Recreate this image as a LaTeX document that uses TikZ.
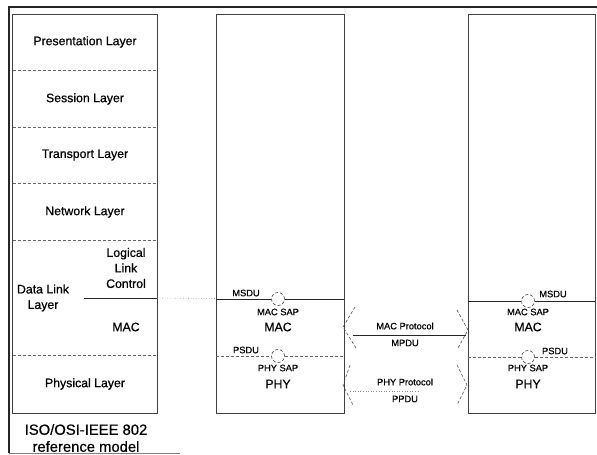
\documentclass[tikz,border=0pt]{standalone}
\usepackage{fontspec}
\setmainfont{Liberation Sans}[FakeBold=0.6]
\begin{document}
\begin{tikzpicture}[x=1pt,y=-1pt,
  frame/.style={line width=1.3pt, black!85},
  boxline/.style={line width=0.7pt, black!75},
  sepline/.style={line width=0.6pt, black!60, densely dashed},
  solidsep/.style={line width=0.9pt, black!85},
  dotline/.style={line width=0.6pt, black!45, dotted},
  lbl/.style={font=\fontsize{12.3}{15.5}\selectfont, align=center, inner sep=0pt},
  small/.style={font=\fontsize{9.3}{11}\selectfont, inner sep=0pt},
  big/.style={font=\fontsize{14.8}{17}\selectfont, align=center, inner sep=0pt},
  bracketline/.style={line width=0.6pt, black!70, dash pattern=on 3pt off 2pt},
  sapcircle/.style={line width=0.6pt, black!75, dash pattern=on 3pt off 2pt}
]
\useasboundingbox (0,0) rectangle (597,455);

% outer frame
\coordinate (fTR) at (597,7);
\coordinate (fTL) at (9,7);
\coordinate (fBL) at (9,453);
\coordinate (fBR) at (180,453);
\draw[frame] (fTR) -- (fTL) -- (fBL);
\draw[line width=0.8pt, black!50] (fBL) -- (fBR);

% left reference stack
\coordinate (L1) at (12.5,14);
\coordinate (L2) at (157,413);
\draw[boxline] (L1) rectangle (L2);
\foreach \yy/\nm in {70/a,127/b,183/c,240/d,355/e}{
  \coordinate (sl\nm) at (12.5,\yy);
  \coordinate (sr\nm) at (157,\yy);
  \draw[sepline] (sl\nm) -- (sr\nm);
}
\coordinate (llcL) at (84,298);
\coordinate (llcR) at (157,298);
\coordinate (midL) at (216,298.5);
\draw[solidsep] (llcL) -- (llcR);
\draw[dotline] (llcR) -- (midL);

\node[lbl] (pres) at (85,42) {Presentation Layer};
\node[lbl] (sess) at (85,99) {Session Layer};
\node[lbl] (trans) at (85,155) {Transport Layer};
\node[lbl] (net) at (85,212) {Network Layer};
\node[lbl] (llc) at (126,268) {Logical\\Link\\Control};
\node[lbl] (dll) at (43,298) {Data Link\\Layer};
\node[lbl] (macL) at (126,327) {MAC};
\node[lbl] (phys) at (85,384) {Physical Layer};
\node[big] (iso) at (86,438) {ISO/OSI-IEEE 802\\reference model};

% middle station
\coordinate (M1) at (216,14);
\coordinate (M2) at (344,413);
\draw[boxline] (M1) rectangle (M2);
\node[draw, circle, sapcircle, minimum size=13pt, inner sep=0pt] (msapA) at (278,299) {};
\node[draw, circle, sapcircle, minimum size=13pt, inner sep=0pt] (psapA) at (278,356) {};
\coordinate (mA1) at (216,299);
\coordinate (mA2) at (344,299);
\coordinate (pA1) at (216,356);
\coordinate (pA2) at (344,356);
\draw[solidsep] (mA1) -- (msapA.west);
\draw[solidsep] (msapA.east) -- (mA2);
\draw[sepline] (pA1) -- (psapA.west);
\draw[sepline] (psapA.east) -- (pA2);
\node[small] (msduA) at (246,293) {MSDU};
\node[small] (macsapA) at (278,312) {MAC SAP};
\node[lbl] (macA) at (278,327) {MAC};
\node[small] (psduA) at (246,350) {PSDU};
\node[small] (physapA) at (278,368) {PHY SAP};
\node[lbl] (phyA) at (278,384) {PHY};

% right station
\coordinate (R1) at (468,14);
\coordinate (R2) at (595,413);
\draw[boxline] (R1) rectangle (R2);
\node[draw, circle, sapcircle, minimum size=13pt, inner sep=0pt] (msapB) at (528,301) {};
\node[draw, circle, sapcircle, minimum size=13pt, inner sep=0pt] (psapB) at (528,357) {};
\coordinate (mB1) at (468,301);
\coordinate (mB2) at (595,301);
\coordinate (pB1) at (468,357);
\coordinate (pB2) at (595,357);
\draw[solidsep] (mB1) -- (msapB.west);
\draw[solidsep] (msapB.east) -- (mB2);
\draw[sepline] (pB1) -- (psapB.west);
\draw[sepline] (psapB.east) -- (pB2);
\node[small] (msduB) at (553,294) {MSDU};
\node[small] (macsapB) at (528,312) {MAC SAP};
\node[lbl] (macB) at (528,327) {MAC};
\node[small] (psduB) at (555,351) {PSDU};
\node[small] (physapB) at (528,368) {PHY SAP};
\node[lbl] (phyB) at (528,384) {PHY};

% MAC protocol
\coordinate (macLapex) at (343,327);
\coordinate (macLup) at (355,307);
\coordinate (macLdn) at (356,348);
\coordinate (macRapex) at (468,330);
\coordinate (macRup) at (457,310);
\coordinate (macRdn) at (458,348);
\draw[bracketline] (macLup) -- (macLapex) -- (macLdn);
\draw[bracketline] (macRup) -- (macRapex) -- (macRdn);
\coordinate (macLine1) at (353,335);
\coordinate (macLine2) at (466,335);
\draw[solidsep] (macLine1) -- (macLine2);
\node[small] (macproto) at (405,326) {MAC Protocol};
\node[small] (mpdu) at (405,343) {MPDU};

% PHY protocol
\coordinate (phyLapex) at (343,385);
\coordinate (phyLup) at (350,365);
\coordinate (phyLdn) at (353,405);
\coordinate (phyRapex) at (467,385);
\coordinate (phyRup) at (457,365);
\coordinate (phyRdn) at (457,405);
\draw[bracketline] (phyLup) -- (phyLapex) -- (phyLdn);
\draw[bracketline] (phyRup) -- (phyRapex) -- (phyRdn);
\coordinate (phyLine1) at (350,391);
\coordinate (phyLine2) at (420,391);
\draw[dotline] (phyLine1) -- (phyLine2);
\node[small] (phyproto) at (405,382) {PHY Protocol};
\node[small] (ppdu) at (405,399) {PPDU};
\end{tikzpicture}
\end{document}
